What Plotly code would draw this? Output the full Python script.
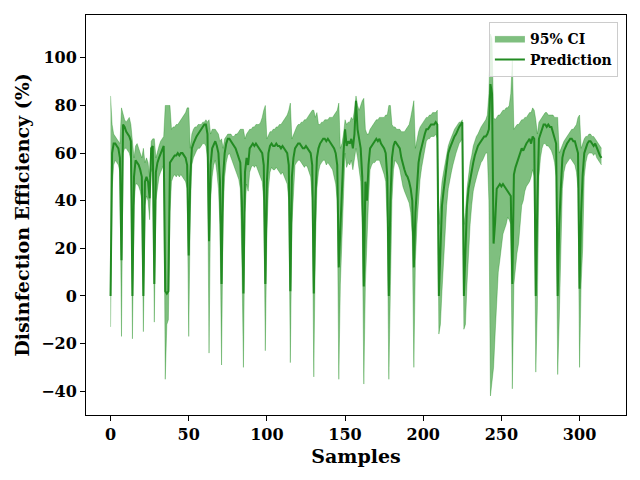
import plotly.graph_objects as go

pred = [
    0, 60, 64, 64, 63, 62, 58,
    15, 72, 71, 69, 68, 67, 65,
    0, 50, 57, 56, 55, 53, 50,
    0, 48, 50, 48, 41, 62, 63,
    5, 52, 56, 58, 60, 62, 63,
    2, 1, 2,
    56, 57, 58, 59, 59, 60, 59, 60, 60, 59, 58, 55, 17,
    50, 62, 64, 66, 67, 68, 69, 70, 71, 72, 72, 68, 23,
    55, 62, 64, 65, 63, 60, 48, 5,
    50, 60, 64, 66, 66, 65, 64, 63, 62, 60, 58, 56, 40, 1,
    52, 58, 55, 62, 63, 64, 63, 64, 63, 62, 61, 60, 55, 5,
    48, 60, 63, 64, 63, 63, 64, 63, 63, 62, 63, 62, 61, 60, 55, 2,
    50, 58, 62, 63, 64, 64, 63, 62, 62, 63, 62, 61, 60, 55, 1, 40, 58, 62,
    64, 65, 66, 66, 65, 66, 65, 64, 63, 62, 60, 55, 12,
    30, 44, 60, 70, 63, 65, 64, 66, 62, 68, 82, 70, 65, 62, 50, 4,
    48, 40, 55, 62, 63, 64, 65, 66, 65, 66, 64, 63, 62, 60, 50, 0,
    40, 58, 63, 65, 64, 63, 62, 58, 55, 53, 51, 50, 48, 45, 40, 12,
    35, 48, 56, 60, 63, 66, 68, 70, 70, 71, 72, 72, 72, 73, 72, 0,
    22, 38, 44, 50, 56, 60, 62, 64, 66, 67, 68, 70, 71, 72, 73, 0,
    25, 38, 45, 49, 52, 56, 59, 61, 63, 64, 65, 66, 67, 67, 68, 70, 89, 85, 22,
    31, 45, 46, 47, 46, 47, 46, 45, 44, 43, 42, 5,
    51, 54, 56, 58, 60, 62, 61, 63, 64, 65, 66, 64, 67, 66, 0,
    40, 66, 68, 70, 72, 72, 71, 72, 71, 71, 69, 67, 64, 0,
    30, 45, 58, 61, 63, 64, 65, 66, 66, 65, 65, 63, 60, 3,
    35, 51, 60, 62, 64, 65, 65, 64, 63, 64, 62, 60, 59, 58,
]

lower = [
    -13, 45, 55, 57, 56, 55, 52,
    -17, 60, 62, 62, 61, 60, 57,
    -18, 38, 47, 47, 46, 44, 40,
    -15, 38, 42, 40, 32, 52, 54,
    -11, 40, 46, 50, 52, 54, 55,
    -35, -12, -10,
    35, 48, 50, 51, 50, 51, 50, 51, 50, 49, 48, 45, -17,
    35, 55, 58, 60, 61, 62, 62, 63, 64, 64, 63, 58, -24,
    40, 50, 55, 57, 52, 45, 30, -29,
    35, 50, 56, 59, 60, 58, 57, 55, 53, 51, 49, 45, 15, -30,
    35, 47, 44, 52, 54, 55, 54, 55, 53, 51, 49, 48, 40, -23,
    27, 45, 52, 54, 53, 53, 54, 53, 52, 51, 52, 50, 49, 47, 40, -28,
    30, 45, 55, 56, 57, 57, 56, 55, 54, 55, 54, 52, 50, 40, -34, 20, 45, 52,
    55, 56, 57, 57, 55, 56, 55, 54, 53, 50, 47, 40, -35,
    5, 25, 48, 60, 54, 56, 55, 57, 53, 57, 62, 58, 52, 48, 30, -37,
    5, 25, 40, 53, 55, 56, 56, 57, 57, 57, 55, 53, 51, 48, 30, -35,
    5, 40, 53, 57, 56, 55, 53, 49, 46, 44, 42, 41, 39, 35, 25, -30,
    15, 30, 42, 49, 54, 58, 62, 65, 66, 66, 67, 67, 67, 68, 66, -16,
    -12, 2, 14, 28, 38, 45, 49, 52, 55, 58, 60, 62, 64, 65, 66, -14,
    -12, 5, 20, 30, 38, 44, 47, 50, 52, 54, 56, 57, 59, 60, 60, 40, -42, -35, -30,
    -16, 0, 10, 15, 22, 26, 28, 30, 33, 32, 30, -39,
    5, 12, 18, 22, 30, 38, 40, 44, 46, 47, 48, 50, 53, 50, -32,
    -5, 50, 58, 62, 64, 64, 63, 63, 62, 61, 59, 56, 50, -33,
    -10, 14, 45, 52, 55, 56, 57, 58, 57, 56, 55, 52, 45, -30,
    5, 20, 50, 56, 59, 60, 60, 60, 59, 60, 58, 57, 56, 55,
]

upper = [
    84, 72, 68, 67, 66, 65, 64,
    79, 76, 74, 73, 74, 75, 72,
    66, 58, 63, 64, 62, 60, 58,
    62, 56, 58, 56, 50, 65, 66,
    66, 58, 61, 63, 65, 66, 67,
    80, 80, 80,
    80, 70, 71, 71, 72, 72, 73, 74, 75, 76, 77, 79, 79,
    62, 68, 70, 71, 71, 72, 72, 72, 73, 73, 74, 73, 74,
    68, 70, 70, 70, 69, 68, 65, 66,
    62, 66, 67, 68, 68, 68, 67, 67, 68, 68, 69, 70, 70, 70,
    66, 68, 69, 70, 70, 71, 71, 72, 72, 72, 73, 75, 78, 80,
    66, 68, 69, 69, 70, 70, 71, 71, 72, 72, 73, 74, 75, 76, 78, 81,
    66, 68, 70, 71, 72, 72, 73, 73, 74, 74, 75, 76, 77, 78, 78, 75, 77, 72,
    72, 73, 73, 74, 74, 74, 75, 75, 75, 76, 77, 78, 81,
    62, 64, 68, 74, 72, 73, 73, 75, 74, 78, 84, 80, 78, 80, 82, 83,
    70, 68, 68, 70, 71, 72, 73, 74, 74, 75, 75, 75, 75, 76, 76, 80,
    80, 72, 71, 71, 70, 70, 70, 69, 69, 69, 70, 71, 72, 75, 79, 82,
    62, 66, 69, 71, 72, 73, 74, 75, 75, 76, 76, 77, 77, 77, 78, 30,
    40, 48, 52, 56, 60, 63, 65, 67, 69, 70, 71, 72, 73, 73, 74, 30,
    35, 45, 52, 56, 59, 63, 65, 67, 68, 70, 71, 72, 73, 74, 76, 85, 110, 108, 75,
    74, 75, 76, 76, 77, 78, 78, 79, 79, 80, 85, 99,
    70, 71, 72, 72, 73, 74, 74, 75, 75, 76, 77, 77, 79, 78, 74,
    68, 73, 74, 75, 76, 77, 77, 76, 76, 76, 76, 75, 75, 75,
    60, 62, 64, 65, 66, 67, 68, 69, 70, 70, 71, 72, 75, 76,
    62, 64, 66, 67, 67, 68, 68, 67, 67, 66, 65, 64, 63, 62,
]

samples = list(range(len(pred)))
x_ticks = [0, 50, 100, 150, 200, 250, 300]
y_ticks = [-40, -20, 0, 20, 40, 60, 80, 100]

FONT = "DejaVu Serif"
fill_col = "rgba(0,128,0,0.5)"
line_col = "#228b22"

fig = go.Figure()
fig.add_trace(go.Scatter(x=samples, y=lower, mode="lines",
                         line=dict(color=fill_col, width=0.6),
                         showlegend=False, hoverinfo="skip"))
fig.add_trace(go.Scatter(x=samples, y=upper, mode="lines", fill="tonexty",
                         fillcolor=fill_col, line=dict(color=fill_col, width=0.6),
                         name="95% CI"))
fig.add_trace(go.Scatter(x=samples, y=pred, mode="lines",
                         line=dict(color=line_col, width=2),
                         name="Prediction"))

axis_common = dict(showline=True, mirror=True, linecolor="black", linewidth=1,
                   ticks="outside", ticklen=5, tickwidth=1, tickcolor="black",
                   showgrid=False, zeroline=False,
                   tickfont=dict(family=FONT, size=16, color="black", weight="bold"))

fig.update_layout(
    width=640, height=480,
    margin=dict(l=86, r=14, t=15, b=65),
    plot_bgcolor="white", paper_bgcolor="white",
    xaxis=dict(range=[-15.7, 329.7], tickvals=x_ticks,
               title=dict(text="Samples", font=dict(family=FONT, size=19, color="black", weight="bold"),
                          standoff=6),
               **axis_common),
    yaxis=dict(range=[-50, 118], tickvals=y_ticks,
               title=dict(text="Disinfection Efficiency (%)",
                          font=dict(family=FONT, size=19, color="black", weight="bold"),
                          standoff=6),
               **axis_common),
    legend=dict(x=0.985, y=0.983, xanchor="right", yanchor="top",
                traceorder="normal",
                bgcolor="rgba(255,255,255,0.8)", bordercolor="#cccccc", borderwidth=1,
                font=dict(family=FONT, size=14, color="black", weight="bold"),
                tracegroupgap=0, itemwidth=30),
)

fig.write_html("out.html")
